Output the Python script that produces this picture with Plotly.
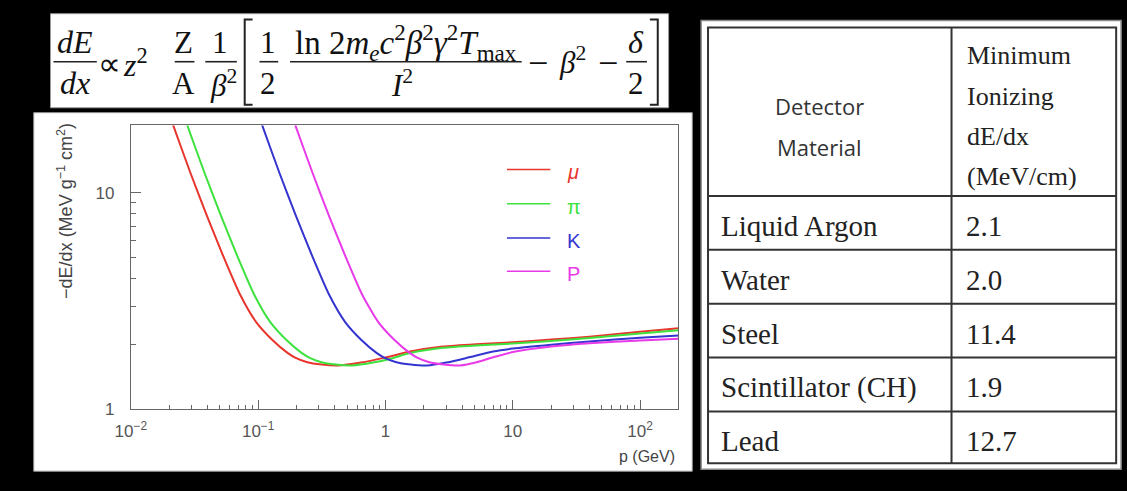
import plotly.graph_objects as go

W, H = 1127, 491

# ---------------- data ----------------
mu_p = [0.01905, 0.0216, 0.0294, 0.0396, 0.0532, 0.0717, 0.0965, 0.130, 0.170, 0.197, 0.240, 0.316, 0.424, 0.642, 0.972, 1.56, 2.82, 5.13, 10.0, 20.0, 40.0, 100, 200]
mu_v = [25.0, 20.3, 12.32, 7.82, 5.09, 3.41, 2.53, 2.086, 1.824, 1.730, 1.656, 1.611, 1.595, 1.646, 1.73, 1.85, 1.95, 2.00, 2.04, 2.10, 2.167, 2.285, 2.37]

pi_p = [0.02457, 0.02786, 0.03793, 0.05108, 0.06863, 0.0925, 0.1245, 0.1677, 0.2193, 0.2541, 0.3096, 0.4076, 0.547, 0.80, 1.10, 1.56, 2.82, 5.13, 10.0, 20.0, 40.0, 100, 200]
pi_v = [25.0, 20.3, 12.32, 7.82, 5.09, 3.41, 2.53, 2.086, 1.824, 1.730, 1.656, 1.611, 1.595, 1.645, 1.715, 1.82, 1.925, 1.975, 2.015, 2.07, 2.135, 2.24, 2.32]

k_p = [0.0953, 0.108, 0.147, 0.198, 0.266, 0.3585, 0.4825, 0.650, 0.850, 0.985, 1.20, 1.58, 2.12, 3.00, 4.54, 7.0, 10.0, 20.0, 40.0, 100, 200]
k_v = [25.0, 20.3, 12.32, 7.82, 5.09, 3.41, 2.53, 2.086, 1.824, 1.730, 1.656, 1.611, 1.595, 1.645, 1.74, 1.85, 1.91, 1.99, 2.06, 2.14, 2.195]

p_p = [0.1734, 0.1966, 0.2675, 0.360, 0.484, 0.652, 0.878, 1.183, 1.547, 1.79, 2.18, 2.88, 3.86, 5.2, 7.0, 10.0, 20.0, 40.0, 100, 200]
p_v = [25.0, 20.3, 12.32, 7.82, 5.09, 3.41, 2.53, 2.086, 1.824, 1.730, 1.656, 1.611, 1.595, 1.65, 1.74, 1.84, 1.95, 2.02, 2.08, 2.12]

series_names = ["μ", "π", "K", "P"]
series_colors = ["#e8362e", "#3ee23e", "#3434d0", "#e83ae8"]

x_tickvals = [0.01, 0.1, 1, 10, 100]
x_ticktext = ["10<sup>−2</sup>", "10<sup>−1</sup>", "1", "10", "10<sup>2</sup>"]
y_tickvals = [1, 10]
y_ticktext = ["1", "10"]

materials = ["Liquid Argon", "Water", "Steel", "Scintillator (CH)", "Lead"]
min_ion = ["2.1", "2.0", "11.4", "1.9", "12.7"]
header_col1 = ["Detector", "Material"]
header_col2 = ["Minimum", "Ionizing", "dE/dx", "(MeV/cm)"]


def X(px):
    return px / W


def Y(py):
    return 1 - py / H


fig = go.Figure()
curves = [(mu_p, mu_v), (pi_p, pi_v), (k_p, k_v), (p_p, p_v)]
for (xs, ys), name, col in zip(curves, series_names, series_colors):
    fig.add_trace(go.Scatter(x=xs, y=ys, mode="lines", name=name,
                             line=dict(color=col, width=2, shape="spline", smoothing=0.6),
                             showlegend=False, hoverinfo="skip"))

shapes = []
annotations = []

# panels
shapes.append(dict(type="rect", xref="paper", yref="paper", x0=X(35), x1=X(662), y0=Y(110), y1=Y(14),
                   fillcolor="white", line=dict(color="#9a9a9a", width=1), layer="below"))
shapes.append(dict(type="rect", xref="paper", yref="paper", x0=X(18), x1=X(686), y0=Y(481), y1=Y(115),
                   fillcolor="white", line=dict(color="#9a9a9a", width=1), layer="below"))
shapes.append(dict(type="rect", xref="paper", yref="paper", x0=X(695), x1=X(1121), y0=Y(479), y1=Y(21),
                   fillcolor="white", line=dict(color="#8a8a8a", width=1.5), layer="below"))

# ---------------- formula ----------------
SERIF = "Liberation Serif, Times New Roman, serif"
FS = 31


def txt(x, y, s, size=FS, xanchor="center", color="#111", family=SERIF):
    annotations.append(dict(x=X(x), y=Y(y), xref="paper", yref="paper", text=s, showarrow=False,
                            xanchor=xanchor, yanchor="middle", font=dict(family=family, size=size, color=color)))


def hbar(x0, x1, y, w=1.6):
    shapes.append(dict(type="line", xref="paper", yref="paper", x0=X(x0), x1=X(x1), y0=Y(y), y1=Y(y),
                       line=dict(color="#222", width=w)))


txt(60, 43, "<i>dE</i>", size=32)
hbar(38, 82, 63)
txt(60, 85, "<i>dx</i>", size=32)
txt(95, 65, "∝", size=32)
txt(121, 64, "<i>z</i><sup>2</sup>", size=32)
txt(170, 43, "Z")
hbar(161, 181, 63)
txt(170, 85, "A")
txt(207, 43, "1")
hbar(192, 224, 63)
txt(210, 85, "<i>β</i><sup>2</sup>")
shapes.append(dict(type="path", xref="paper", yref="paper",
                   path=f"M {X(240)} {Y(20)} L {X(232)} {Y(20)} L {X(232)} {Y(107)} L {X(240)} {Y(107)}",
                   line=dict(color="#222", width=2)))
txt(256, 43, "1")
hbar(247, 266, 63)
txt(256, 85, "2")
txt(396, 43, "ln 2<i>m</i><sub><i>e</i></sub><i>c</i><sup>2</sup><i>β</i><sup>2</sup><i>γ</i><sup>2</sup><i>T</i><sub>max</sub>", size=33)
hbar(278, 513, 63)
txt(392, 85, "<i>I</i><sup>2</sup>")
txt(530, 64, "−", size=36)
txt(565, 62, "<i>β</i><sup>2</sup>")
txt(601, 64, "−", size=36)
txt(629, 43, "<i>δ</i>", size=32)
hbar(619, 640, 63)
txt(629, 85, "2")
shapes.append(dict(type="path", xref="paper", yref="paper",
                   path=f"M {X(643)} {Y(20)} L {X(651)} {Y(20)} L {X(651)} {Y(107)} L {X(643)} {Y(107)}",
                   line=dict(color="#222", width=2)))

# ---------------- legend (inside plot) ----------------
leg_y = [173, 208, 243, 277]
for name, col, ly in zip(series_names, series_colors, leg_y):
    shapes.append(dict(type="line", xref="paper", yref="paper", x0=X(498), x1=X(542), y0=Y(ly), y1=Y(ly),
                       line=dict(color=col, width=1.5)))
    label = f"<i>{name}</i>" if name == "μ" else name
    txt(557, ly + 3, label, size=20, xanchor="left", color=col, family="Liberation Sans, Arial, sans-serif")

# axis titles
SANS = "Liberation Sans, Arial, sans-serif"
annotations.append(dict(x=X(50), y=Y(215), xref="paper", yref="paper", showarrow=False, textangle=-90,
                        text="−dE/dx (MeV g<sup>−1</sup> cm<sup>2</sup>)", xanchor="center", yanchor="middle",
                        font=dict(family=SANS, size=18, color="#444")))
annotations.append(dict(x=X(671), y=Y(466), xref="paper", yref="paper", showarrow=False,
                        text="p (GeV)", xanchor="right", yanchor="middle",
                        font=dict(family=SANS, size=16, color="#444")))

# ---------------- table ----------------
tx0, tx1, ty0, ty1 = 702, 1116, 28, 473
col_div = 949
header_bottom = 200
row_h = 55
shapes.append(dict(type="rect", xref="paper", yref="paper", x0=X(tx0), x1=X(tx1), y0=Y(ty1), y1=Y(ty0),
                   line=dict(color="#333", width=2)))
shapes.append(dict(type="line", xref="paper", yref="paper", x0=X(col_div), x1=X(col_div), y0=Y(ty1), y1=Y(ty0),
                   line=dict(color="#333", width=2)))
for i in range(len(materials)):
    yl = header_bottom + i * row_h
    shapes.append(dict(type="line", xref="paper", yref="paper", x0=X(tx0), x1=X(tx1), y0=Y(yl), y1=Y(yl),
                       line=dict(color="#333", width=2)))

OPEN = "Open Sans, Noto Sans, sans-serif"
for j, s in enumerate(header_col1):
    txt(815, 108 + j * 42, s, size=22, color="#333", family=OPEN)
for j, s in enumerate(header_col2):
    txt(963, 57 + j * 41, s, size=26, xanchor="left", color="#222")
for i, (m, v) in enumerate(zip(materials, min_ion)):
    yc = header_bottom + i * row_h + row_h / 2 + 3
    txt(713, yc, m, size=29, xanchor="left", color="#222")
    txt(962, yc, v, size=29, xanchor="left", color="#222")

px0, px1, pyb, pyt = 116.5, 672, 418, 128
fig.update_layout(
    width=W, height=H, autosize=False,
    margin=dict(l=0, r=0, t=0, b=0),
    paper_bgcolor="black", plot_bgcolor="white",
    shapes=shapes, annotations=annotations,
    xaxis=dict(type="log", range=[-2, 2.301], domain=[X(px0), X(px1)],
               showline=True, linecolor="#666", linewidth=1, mirror=True,
               showgrid=False, zeroline=False,
               tickvals=x_tickvals, ticktext=x_ticktext, ticks="inside", ticklen=9, tickcolor="#666",
               ticklabelstandoff=6,
               tickfont=dict(family=SANS, size=17, color="#555"),
               minor=dict(tickvals=[a * b for b in [0.01, 0.1, 1, 10, 100] for a in range(2, 10) if a * b <= 200],
                          ticks="inside", ticklen=4, tickcolor="#666")),
    yaxis=dict(type="log", range=[0, 1.31], domain=[Y(pyb), Y(pyt)],
               showline=True, linecolor="#666", linewidth=1, mirror=True,
               showgrid=False, zeroline=False,
               tickvals=y_tickvals, ticktext=y_ticktext, ticks="inside", ticklen=10, tickcolor="#666",
               ticklabelstandoff=12,
               tickfont=dict(family=SANS, size=17, color="#555"),
               minor=dict(tickvals=[2, 3, 4, 5, 6, 7, 8, 9], ticks="inside", ticklen=5, tickcolor="#666")),
)

fig.write_html("out.html")
